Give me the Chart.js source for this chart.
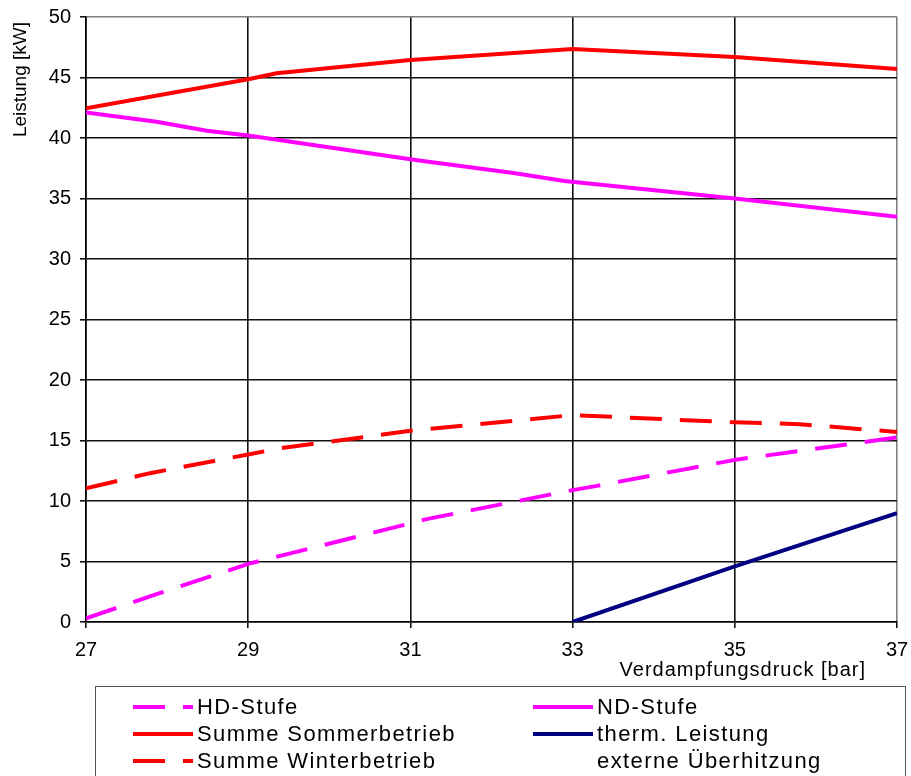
<!DOCTYPE html>
<html>
<head>
<meta charset="utf-8">
<script src="https://cdn.jsdelivr.net/npm/chart.js@4.4.1/dist/chart.umd.min.js"></script>
<style>
  html, body { margin: 0; padding: 0; background: #fff; overflow: hidden; }
  #wrap { position: relative; width: 911px; height: 776px; }
  #legend {
    position: absolute; left: 95px; top: 686px; width: 811px; height: 110px;
    border: 1px solid #555; box-sizing: border-box;
    font-family: "Liberation Sans", Arial, sans-serif; font-size: 22px; letter-spacing: 1.4px; color: #000;
  }
  .item { position: absolute; display: flex; align-items: center; height: 27px; }
  .item svg { margin-right: 4px; }
  .item .txt { line-height: 27px; white-space: nowrap; }
</style>
</head>
<body>
<div id="wrap">
  <canvas id="c" width="911" height="776"></canvas>
  <div id="legend"></div>
</div>
<script>
// Verdampfungsdruck [bar] / Leistung [kW]
const hdX = [27, 27.87, 29, 31, 31.2, 33, 33.3, 35, 37];
const hdY = [0.3, 2.3, 4.8, 8.15, 8.5, 10.9, 11.25, 13.4, 15.25];

const ndX = [27, 27.87, 28.49, 29, 31, 31.2, 32.27, 32.9, 35, 37];
const ndY = [42.1, 41.35, 40.6, 40.2, 38.25, 38.05, 37.1, 36.45, 35.0, 33.5];

const sommerX = [27, 29, 29.35, 31, 33, 35, 37];
const sommerY = [42.45, 44.85, 45.35, 46.45, 47.35, 46.7, 45.7];

const winterX = [27, 27.79, 29, 29.39, 31, 33, 35, 35.8, 37];
const winterY = [11.05, 12.3, 13.85, 14.35, 15.8, 17.1, 16.5, 16.35, 15.7];

const thermX = [33, 35, 37];
const thermY = [0, 4.6, 9.0];

const xTicks = [27, 29, 31, 33, 35, 37];
const yTicks = [0, 5, 10, 15, 20, 25, 30, 35, 40, 45, 50];

const pts = (xs, ys) => xs.map((x, i) => ({ x, y: ys[i] }));
const FONT = '"Liberation Sans", Arial, sans-serif';
const DASH = [32, 18];

const series = [
    { label: 'HD-Stufe', data: pts(hdX, hdY), color: '#ff00ff', dash: DASH, col: 0, row: 0 },
    { label: 'ND-Stufe', data: pts(ndX, ndY), color: '#ff00ff', dash: [], col: 1, row: 0 },
    { label: 'Summe Sommerbetrieb', data: pts(sommerX, sommerY), color: '#ff0000', dash: [], col: 0, row: 1 },
    { label: 'Summe Winterbetrieb', data: pts(winterX, winterY), color: '#ff0000', dash: DASH, col: 0, row: 2 },
    { label: 'therm. Leistung\nexterne Überhitzung', data: pts(thermX, thermY), color: '#000080', dash: [], col: 1, row: 1 },
];

const axisTitles = {
    id: 'axisTitles',
    afterDraw(chart) {
        const { ctx, chartArea } = chart;
        ctx.save();
        ctx.fillStyle = '#000';
        ctx.font = '20px ' + FONT;
        ctx.letterSpacing = '1px';
        ctx.textAlign = 'right';
        ctx.textBaseline = 'alphabetic';
        ctx.fillText('Verdampfungsdruck [bar]', chartArea.right - 31, chartArea.bottom + 54);
        ctx.letterSpacing = '0px';
        ctx.font = '19px ' + FONT;
        ctx.translate(21, chartArea.top + 5);
        ctx.rotate(-Math.PI / 2);
        ctx.textAlign = 'right';
        ctx.textBaseline = 'middle';
        ctx.fillText('Leistung [kW]', 0, 0);
        ctx.restore();
    }
};

new Chart(document.getElementById('c'), {
    type: 'line',
    data: {
        datasets: series.map(s => ({
            label: s.label,
            data: s.data,
            borderColor: s.color,
            backgroundColor: s.color,
            borderWidth: 4,
            borderDash: s.dash,
            pointRadius: 0,
            tension: 0,
            fill: false,
        })),
    },
    options: {
        responsive: false,
        animation: false,
        layout: { padding: { left: 0, right: 14, top: 17, bottom: 0 } },
        plugins: {
            legend: { display: false },
            tooltip: { enabled: false },
        },
        scales: {
            x: {
                type: 'linear',
                min: 27, max: 37,
                afterBuildTicks: (scale) => { scale.ticks = xTicks.map(v => ({ value: v })); },
                afterFit: (scale) => { scale.height = 154; scale.paddingLeft = 0; scale.paddingRight = 0; },
                grid: {
                    color: (c) => c.tick && c.tick.value === 37 ? '#808080' : '#111',
                    lineWidth: 1.6,
                    tickLength: 6,
                    tickColor: '#111',
                },
                border: { color: '#000', width: 1.6 },
                ticks: {
                    color: '#000',
                    font: { family: FONT, size: 20 },
                    padding: 10,
                    maxRotation: 0,
                    autoSkip: false,
                },
            },
            y: {
                min: 0, max: 50,
                afterBuildTicks: (scale) => { scale.ticks = yTicks.map(v => ({ value: v })); },
                afterFit: (scale) => { scale.width = 86; scale.paddingTop = 0; scale.paddingBottom = 0; },
                grid: {
                    color: (c) => c.tick && c.tick.value === 50 ? '#808080' : '#111',
                    lineWidth: 1.6,
                    tickLength: 6,
                    tickColor: '#111',
                },
                border: { color: '#000', width: 1.6 },
                ticks: {
                    color: '#000',
                    font: { family: FONT, size: 20 },
                    padding: 9,
                },
            },
        },
    },
    plugins: [axisTitles],
});

// legend built from the same series
const legend = document.getElementById('legend');
const colLeft = [37, 437];
const rowTop = [6, 33, 60];
series.forEach(s => {
    const d = document.createElement('div');
    d.className = 'item';
    d.style.left = colLeft[s.col] + 'px';
    d.style.top = rowTop[s.row] + 'px';
    const dash = s.dash.length ? 'stroke-dasharray="' + s.dash.join(' ') + '"' : '';
    d.innerHTML = '<svg width="60" height="6"><line x1="0" y1="3" x2="60" y2="3" stroke="' + s.color +
        '" stroke-width="4" ' + dash + '/></svg>';
    const lines = s.label.split('\n');
    const t = document.createElement('span');
    t.className = 'txt';
    t.innerHTML = lines.join('<br>');
    if (lines.length > 1) { d.style.alignItems = 'flex-start'; d.querySelector('svg').style.marginTop = '11px'; }
    d.appendChild(t);
    legend.appendChild(d);
});
</script>
</body>
</html>
